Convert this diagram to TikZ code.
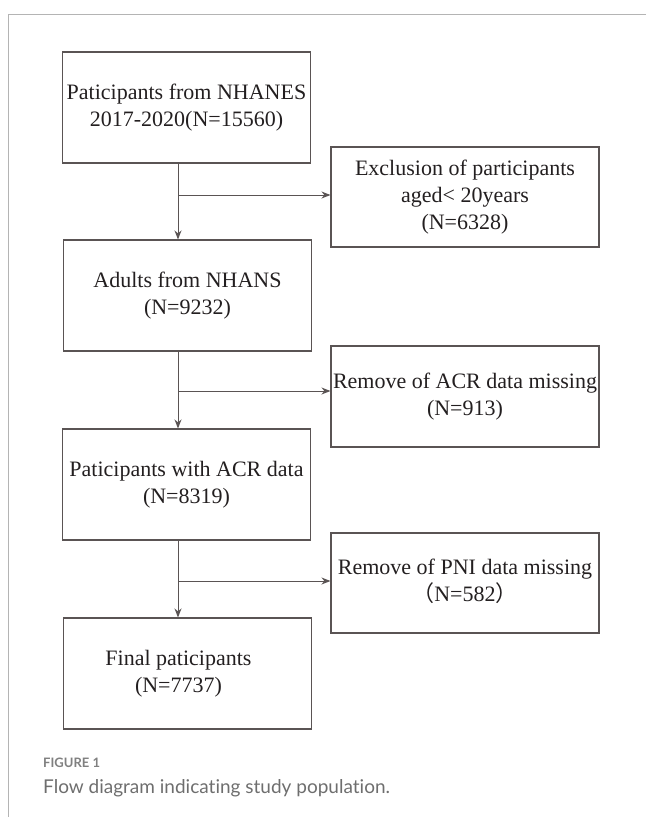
\documentclass[tikz,border=0pt]{standalone}
\usepackage{fontspec}
\setmainfont{Liberation Serif}
\newfontfamily\capfont[Ligatures={NoCommon}]{Lato}
\newfontfamily\cjkfont{Noto Sans CJK SC}
\usetikzlibrary{arrows.meta}
\definecolor{frameg}{HTML}{B4B4B4}
\definecolor{boxc}{HTML}{5A5454}
\definecolor{txtc}{HTML}{231F20}
\definecolor{capg}{HTML}{808080}
\definecolor{capt}{HTML}{6E6E6E}
\newcommand\bt[2]{\raisebox{#1}{\begin{tabular}{@{}c@{}}#2\end{tabular}}}
\begin{document}
\begin{tikzpicture}[x=1pt,y=-1pt,
  box/.style={draw=boxc, line width=1.1pt, minimum width=248pt, minimum height=111pt,
    inner sep=0pt, font=\fontsize{22}{27}\selectfont, text=txtc},
  sbox/.style={box, minimum width=268pt, minimum height=100pt},
  arr/.style={draw=boxc, line width=1pt, -{Stealth[length=9pt,width=7pt]}}]
\useasboundingbox (0,0) rectangle (646,817);
\draw[frameg, line width=1pt] (646,14) -- (8,14) -- (8,817);

\node[box] (b1) at (186.5,107.5) {\bt{7pt}{Paticipants from NHANES\\2017-2020(N=15560)}};
\node[sbox] (b2) at (465,197) {\bt{-3pt}{Exclusion of participants\\aged< 20years\\(N=6328)}};
\node[box] (b3) at (187.5,295.5) {\bt{-2pt}{Adults from NHANS\\(N=9232)}};
\node[sbox, minimum height=101pt] (b4) at (465,396.5) {\bt{-6pt}{Remove of ACR data missing\\(N=913)}};
\node[box] (b5) at (186.5,484.5) {\bt{3pt}{Paticipants with ACR data\\(N=8319)}};
\node[sbox] (b6) at (465,583) {\bt{-3pt}{Remove of PNI data missing\\{\cjkfont （}N=582{\cjkfont ）}}};
\node[box] (b7) at (187.5,673.5) {\hspace*{-18pt}\bt{3pt}{Final paticipants\\(N=7737)}};

\coordinate (j1) at (178,195);
\coordinate (j2) at (178,391);
\coordinate (j3) at (178,581);
\draw[arr] (j1 |- b1.south) -- (j1 |- b3.north);
\draw[arr] (j1) -- (j1 -| b2.west);
\draw[arr] (j2 |- b3.south) -- (j2 |- b5.north);
\draw[arr] (j2) -- (j2 -| b4.west);
\draw[arr] (j3 |- b5.south) -- (j3 |- b7.north);
\draw[arr] (j3) -- (j3 -| b6.west);

\node[anchor=base west, font=\capfont\bfseries\fontsize{13}{15}\selectfont, text=capg, inner sep=0pt] (cap1) at (43,767) {FIGURE 1};
\node[anchor=base west, font=\capfont\fontsize{19}{23}\selectfont, text=capt, inner sep=0pt] (cap2) at (43,793) {Flow diagram indicating study population.};
\end{tikzpicture}
\end{document}
